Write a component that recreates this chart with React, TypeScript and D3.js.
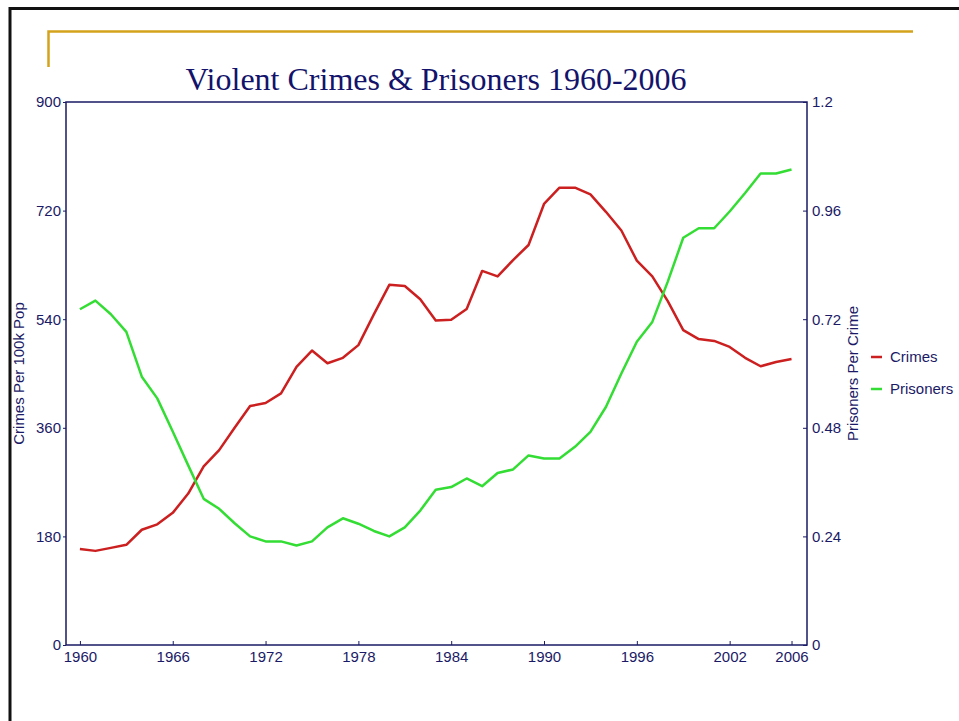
import React, { useEffect, useRef } from 'react';
import * as d3 from 'd3';

// values
const years = [
  1960, 1961, 1962, 1963, 1964, 1965, 1966, 1967, 1968, 1969,
  1970, 1971, 1972, 1973, 1974, 1975, 1976, 1977, 1978, 1979,
  1980, 1981, 1982, 1983, 1984, 1985, 1986, 1987, 1988, 1989,
  1990, 1991, 1992, 1993, 1994, 1995, 1996, 1997, 1998, 1999,
  2000, 2001, 2002, 2003, 2004, 2005, 2006,
];
const crimes = [
  159, 156, 161, 166, 191, 200, 219, 251, 296, 323,
  360, 396, 401, 417, 461, 488, 467, 476, 497, 548,
  597, 595, 573, 538, 539, 557, 620, 611, 638, 663,
  731, 758, 758, 747, 718, 687, 637, 611, 570, 522,
  507, 504, 494, 476, 462, 469, 474,
];
const prisoners = [
  0.742, 0.761, 0.731, 0.692, 0.593, 0.545, 0.472, 0.397, 0.323, 0.301,
  0.269, 0.240, 0.229, 0.229, 0.220, 0.229, 0.260, 0.280, 0.268, 0.252,
  0.240, 0.260, 0.297, 0.343, 0.349, 0.368, 0.351, 0.380, 0.388, 0.419,
  0.412, 0.412, 0.438, 0.471, 0.526, 0.600, 0.670, 0.714, 0.803, 0.900,
  0.921, 0.921, 0.958, 0.999, 1.042, 1.042, 1.051,
];
const xTicks = [1960, 1966, 1972, 1978, 1984, 1990, 1996, 2002, 2006];
const leftTicks = [0, 180, 360, 540, 720, 900];
const rightTicks = [0, 0.24, 0.48, 0.72, 0.96, 1.2];
const seriesNames = ['Crimes', 'Prisoners'];
const seriesColors = ['#cc1f1f', '#33dd33'];

const W = 959;
const H = 721;
const navy = '#1a1a66';
const sans = 'Liberation Sans, Arial, sans-serif';

const App: React.FC = () => {
  const svgRef = useRef<SVGSVGElement>(null);

  useEffect(() => {
    if (!svgRef.current) return;
    const svg = d3.select(svgRef.current);
    svg.selectAll('*').remove();

    // slide frame + gold corner rule
    svg.append('path')
      .attr('d', `M10,${H} V8.5 H${W}`)
      .attr('fill', 'none')
      .attr('stroke', '#111')
      .attr('stroke-width', 3);
    svg.append('path')
      .attr('d', 'M48.5,67 V31.5 H913')
      .attr('fill', 'none')
      .attr('stroke', '#d4a31c')
      .attr('stroke-width', 2.5);

    const left = 66, right = 807, top = 102, bottom = 645;

    const x = d3.scaleLinear().domain([1959.1, 2007]).range([left, right]);
    const yL = d3.scaleLinear().domain([0, 900]).range([bottom, top]);
    const yR = d3.scaleLinear().domain([0, 1.2]).range([bottom, top]);

    // title
    svg.append('text')
      .attr('x', 436)
      .attr('y', 89.5)
      .attr('text-anchor', 'middle')
      .attr('font-family', 'Liberation Serif, Times New Roman, serif')
      .attr('font-size', 32)
      .attr('fill', '#13136b')
      .text('Violent Crimes & Prisoners 1960-2006');

    // plot frame
    svg.append('rect')
      .attr('x', left).attr('y', top)
      .attr('width', right - left).attr('height', bottom - top)
      .attr('fill', 'none')
      .attr('stroke', navy)
      .attr('stroke-width', 1.5);

    const styleAxis = (g: d3.Selection<SVGGElement, unknown, null, undefined>) => {
      g.select('.domain').remove();
      g.selectAll('line').attr('stroke', navy);
      g.selectAll('text')
        .attr('fill', navy)
        .attr('font-family', sans)
        .attr('font-size', 15);
    };

    svg.append('g')
      .attr('transform', `translate(0,${bottom})`)
      .call(d3.axisBottom(x).tickValues(xTicks).tickFormat(d3.format('d')).tickSize(-4).tickPadding(6))
      .call(styleAxis);

    svg.append('g')
      .attr('transform', `translate(${left},0)`)
      .call(d3.axisLeft(yL).tickValues(leftTicks).tickFormat(d3.format('d')).tickSize(3).tickPadding(2))
      .call(styleAxis);

    svg.append('g')
      .attr('transform', `translate(${right},0)`)
      .call(d3.axisRight(yR).tickValues(rightTicks).tickFormat(d => String(d)).tickSize(-4).tickPadding(5))
      .call(styleAxis);

    // axis titles
    svg.append('text')
      .attr('transform', `translate(24,${(top + bottom) / 2}) rotate(-90)`)
      .attr('text-anchor', 'middle')
      .attr('font-family', sans)
      .attr('font-size', 15)
      .attr('fill', navy)
      .text('Crimes Per 100k Pop');
    svg.append('text')
      .attr('transform', `translate(858,${(top + bottom) / 2}) rotate(-90)`)
      .attr('text-anchor', 'middle')
      .attr('font-family', sans)
      .attr('font-size', 15)
      .attr('fill', navy)
      .text('Prisoners Per Crime');

    // lines
    const crimeLine = d3.line<number>()
      .x((_, i) => x(years[i]))
      .y(d => yL(d));
    const prisonLine = d3.line<number>()
      .x((_, i) => x(years[i]))
      .y(d => yR(d));

    svg.append('path')
      .datum(crimes)
      .attr('fill', 'none')
      .attr('stroke', seriesColors[0])
      .attr('stroke-width', 2.5)
      .attr('stroke-linejoin', 'round')
      .attr('d', crimeLine);

    svg.append('path')
      .datum(prisoners)
      .attr('fill', 'none')
      .attr('stroke', seriesColors[1])
      .attr('stroke-width', 2.5)
      .attr('stroke-linejoin', 'round')
      .attr('d', prisonLine);

    // legend
    const legend = svg.append('g');
    seriesNames.forEach((name, i) => {
      const ly = 357 + i * 32;
      legend.append('line')
        .attr('x1', 871).attr('x2', 882)
        .attr('y1', ly).attr('y2', ly)
        .attr('stroke', seriesColors[i])
        .attr('stroke-width', 2.5);
      legend.append('text')
        .attr('x', 890)
        .attr('y', ly)
        .attr('dy', '0.35em')
        .attr('font-family', sans)
        .attr('font-size', 15)
        .attr('fill', navy)
        .text(name);
    });
  }, []);

  return (
    <div style={{ position: 'absolute', left: 0, top: 0, width: W, height: H, background: '#fff' }}>
      <svg ref={svgRef} width={W} height={H} viewBox={`0 0 ${W} ${H}`} />
    </div>
  );
};

export default App;
